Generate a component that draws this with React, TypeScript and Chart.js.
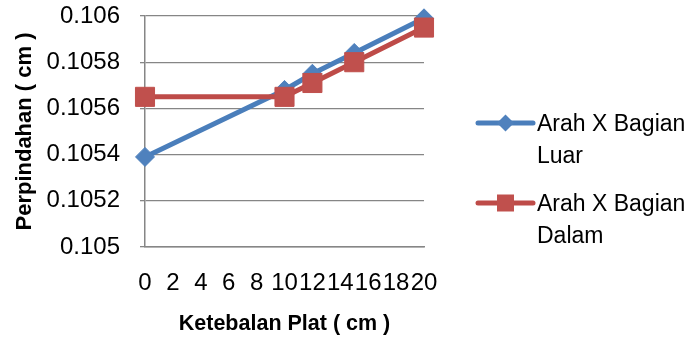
import React, { useEffect, useRef } from "react";
import { Chart, registerables } from "chart.js";

Chart.register(...registerables);

const xValues = [0, 10, 12, 15, 20];
const luarValues = [0.10539, 0.10568, 0.10575, 0.10584, 0.10599];
const dalamValues = [0.10565, 0.10565, 0.10571, 0.1058, 0.10595];
const seriesNames = ["Arah X Bagian Luar", "Arah X Bagian Dalam"];
const xTitle = "Ketebalan Plat ( cm )";
const yTitle = "Perpindahan ( cm )";

const FONT = "'Liberation Sans', Arial, sans-serif";
const BLUE = "#4A7EBB";
const BLUE_M = "#4F81BD";
const RED = "#BE4B48";
const RED_M = "#C0504D";
const GRID = "#868686";

const legendPlugin = {
  id: "customLegend",
  afterDraw(chart: any) {
    const ctx = chart.ctx;
    const area = chart.chartArea;
    const lineX0 = area.right + 54;
    const lineX1 = area.right + 109;
    const textX = area.right + 113;
    const maxW = chart.width - textX;
    ctx.save();
    ctx.font = `23px ${FONT}`;
    ctx.textAlign = "left";
    ctx.textBaseline = "alphabetic";
    chart.data.datasets.forEach((ds: any, i: number) => {
      const y = 123 + i * 80;
      ctx.strokeStyle = ds.borderColor;
      ctx.lineWidth = 5;
      ctx.lineCap = "round";
      ctx.beginPath();
      ctx.moveTo(lineX0, y);
      ctx.lineTo(lineX1, y);
      ctx.stroke();
      const cx = (lineX0 + lineX1) / 2;
      ctx.fillStyle = ds.pointBackgroundColor;
      ctx.beginPath();
      if (ds.pointStyle === "rectRot") {
        const r = 8.5;
        ctx.moveTo(cx - r, y);
        ctx.lineTo(cx, y - r);
        ctx.lineTo(cx + r, y);
        ctx.lineTo(cx, y + r);
        ctx.closePath();
      } else {
        const h = 8.5;
        ctx.rect(cx - h, y - h, 2 * h, 2 * h);
      }
      ctx.fill();
      const words = String(ds.label).split(" ");
      const lines: string[] = [];
      let cur = "";
      words.forEach((w) => {
        const test = cur ? cur + " " + w : w;
        if (ctx.measureText(test).width > maxW && cur) {
          lines.push(cur);
          cur = w;
        } else {
          cur = test;
        }
      });
      if (cur) lines.push(cur);
      ctx.fillStyle = "#000";
      lines.forEach((ln, j) => {
        ctx.fillText(ln, textX, y + 8 + j * 32);
      });
    });
    ctx.restore();
  },
};

export default function App() {
  const ref = useRef<HTMLCanvasElement>(null);
  useEffect(() => {
    document.body.style.margin = "0";
    const canvas = ref.current;
    if (!canvas) return;
    const chart = new Chart(canvas, {
      type: "line",
      data: {
        datasets: [
          {
            label: seriesNames[0],
            data: xValues.map((x, i) => ({ x, y: luarValues[i] })),
            borderColor: BLUE,
            backgroundColor: BLUE_M,
            pointBackgroundColor: BLUE_M,
            pointBorderColor: BLUE_M,
            borderWidth: 5,
            pointStyle: "rectRot",
            pointRadius: 9.5,
            pointBorderWidth: 1,
            order: 1,
            clip: false,
            tension: 0,
          } as any,
          {
            label: seriesNames[1],
            data: xValues.map((x, i) => ({ x, y: dalamValues[i] })),
            borderColor: RED,
            backgroundColor: RED_M,
            pointBackgroundColor: RED_M,
            pointBorderColor: RED_M,
            borderWidth: 5,
            pointStyle: "rect",
            pointRadius: 13.5,
            pointBorderWidth: 1,
            order: 0,
            clip: false,
            tension: 0,
          } as any,
        ],
      },
      options: {
        animation: false,
        responsive: false,
        maintainAspectRatio: false,
        layout: {
          autoPadding: false,
          padding: { top: 16, right: 264, left: 0, bottom: 0 },
        },
        plugins: {
          legend: { display: false },
          tooltip: { enabled: false },
        },
        scales: {
          x: {
            type: "linear",
            min: 0,
            max: 20,
            afterFit: (s: any) => {
              s.height = 91;
              s.paddingLeft = 0;
              s.paddingRight = 0;
            },
            ticks: {
              stepSize: 2,
              autoSkip: false,
              maxRotation: 0,
              minRotation: 0,
              padding: 22,
              color: "#000",
              font: { family: FONT, size: 24 },
            },
            grid: { display: false, drawTicks: false },
            border: { display: true, color: GRID, width: 1.5 },
            title: {
              display: true,
              text: xTitle,
              color: "#000",
              font: { family: FONT, size: 21.5, weight: "bold" },
              padding: { top: 0, bottom: 1 },
            },
          },
          y: {
            type: "linear",
            min: 0.105,
            max: 0.106,
            afterFit: (s: any) => {
              s.width = 145;
              s.paddingTop = 0;
              s.paddingBottom = 0;
            },
            ticks: {
              stepSize: 0.0002,
              padding: 20,
              color: "#000",
              font: { family: FONT, size: 24 },
              callback: (v: any) => Number(Number(v).toFixed(4)).toString(),
            },
            grid: {
              color: GRID,
              lineWidth: 1.3,
              tickLength: 5,
              drawTicks: true,
            },
            border: { display: true, color: GRID, width: 1.5 },
            title: {
              display: true,
              text: yTitle,
              color: "#000",
              font: { family: FONT, size: 22, weight: "bold" },
              padding: { top: 12, bottom: 0 },
            },
          },
        },
      },
      plugins: [legendPlugin],
    } as any);
    return () => chart.destroy();
  }, []);
  return (
    <div style={{ width: 688, height: 338, background: "#fff" }}>
      <canvas ref={ref} width={688} height={338} style={{ display: "block" }} />
    </div>
  );
}
